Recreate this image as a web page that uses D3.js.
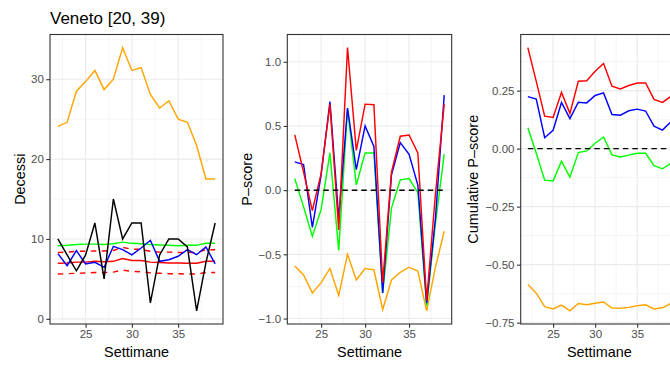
<!DOCTYPE html>
<html>
<head>
<meta charset="utf-8">
<script src="https://cdn.jsdelivr.net/npm/d3@7"></script>
<style>
  html, body { margin: 0; padding: 0; background: #fff; }
  svg { display: block; font-family: "Liberation Sans", Arial, Helvetica, sans-serif; }
</style>
</head>
<body>
<svg id="chart" width="670" height="365"></svg>
<script>
// Weeks shown on the x axis
const weeks = [22, 23, 24, 25, 26, 27, 28, 29, 30, 31, 32, 33, 34, 35, 36, 37, 38, 39];

// Weekly deaths, age group [20, 39), Veneto
const observed      = [10, 8, 6, 8, 12, 5, 15, 10, 12, 12, 2, 8, 10, 10, 9, 1, 7, 12];
const expectedRed   = [6.95, 7.0, 7.1, 7.1, 7.2, 7.15, 7.2, 7.55, 7.3, 7.3, 7.1, 7.05, 7.0, 7.0, 6.95, 6.95, 7.2, 7.2];
const upperRed      = [8.3, 8.35, 8.45, 8.45, 8.5, 8.5, 8.55, 8.95, 8.7, 8.7, 8.45, 8.35, 8.35, 8.3, 8.3, 8.3, 8.65, 8.65];
const lowerRed      = [5.6, 5.65, 5.7, 5.75, 5.8, 5.8, 5.85, 6.1, 5.95, 5.9, 5.75, 5.7, 5.65, 5.65, 5.6, 5.6, 5.8, 5.8];
const expectedGreen = [9.15, 9.2, 9.3, 9.35, 9.35, 9.3, 9.4, 9.6, 9.45, 9.4, 9.3, 9.25, 9.2, 9.15, 9.2, 9.2, 9.45, 9.45];
const expectedBlue  = [8.16, 6.66, 8.54, 6.87, 7.08, 6.45, 9.08, 8.66, 8.0, 8.87, 9.83, 7.2, 7.4, 7.83, 8.66, 8.03, 9.0, 6.87];
const expectedOrange = [24.1, 24.6, 28.5, 29.7, 31.1, 28.7, 30.0, 33.95, 31.1, 31.45, 28.1, 26.4, 27.3, 25.0, 24.6, 21.7, 17.5, 17.5];

// Weekly P-scores
const pRed    = [0.43, 0.14, -0.16, 0.13, 0.67, -0.31, 1.11, 0.31, 0.67, 0.665, -0.72, 0.14, 0.42, 0.43, 0.29, -0.86, -0.03, 0.67];
const pBlue   = [0.22, 0.20, -0.29, 0.12, 0.69, -0.22, 0.64, 0.16, 0.50, 0.34, -0.80, 0.12, 0.37, 0.28, 0.04, -0.88, -0.22, 0.74];
const pGreen  = [0.09, -0.13, -0.36, -0.15, 0.29, -0.47, 0.63, 0.04, 0.29, 0.29, -0.80, -0.14, 0.08, 0.09, -0.02, -0.90, -0.26, 0.28];
const pOrange = [-0.59, -0.66, -0.80, -0.72, -0.61, -0.82, -0.50, -0.70, -0.61, -0.62, -0.93, -0.70, -0.64, -0.60, -0.63, -0.94, -0.60, -0.32];

// Cumulative P-scores
const cRed    = [0.435, 0.29, 0.14, 0.134, 0.242, 0.152, 0.29, 0.292, 0.333, 0.367, 0.269, 0.257, 0.272, 0.283, 0.283, 0.212, 0.199, 0.225];
const cBlue   = [0.224, 0.213, 0.047, 0.079, 0.199, 0.129, 0.20, 0.197, 0.229, 0.24, 0.147, 0.144, 0.163, 0.17, 0.162, 0.097, 0.08, 0.115];
const cGreen  = [0.09, -0.02, -0.136, -0.139, -0.054, -0.123, -0.017, -0.01, 0.023, 0.05, -0.027, -0.036, -0.028, -0.02, -0.02, -0.073, -0.087, -0.063];
const cOrange = [-0.586, -0.623, -0.681, -0.691, -0.674, -0.699, -0.667, -0.673, -0.666, -0.661, -0.687, -0.688, -0.684, -0.677, -0.673, -0.691, -0.686, -0.667];

// Axis ticks
const xTicks = [25, 30, 35];
const xMinor = [22.5, 27.5, 32.5, 37.5];
const yTicks1 = [0, 10, 20, 30];
const yMinor1 = [5, 15, 25, 35];
const yTicks2 = [-1.0, -0.5, 0.0, 0.5, 1.0];
const yMinor2 = [-0.75, -0.25, 0.25, 0.75];
const yTicks3 = [-0.75, -0.50, -0.25, 0.00, 0.25];
const yMinor3 = [-0.625, -0.375, -0.125, 0.125, 0.375];

const title = "Veneto [20, 39)";
const xTitle = "Settimane";

const svg = d3.select("#chart");
const TOP = 34.5, BOTTOM = 324;

// ggplot-style 5% expansion of a continuous range
function expand(lo, hi) {
  const pad = (hi - lo) * 0.05;
  return [lo - pad, hi + pad];
}

function panel(opts) {
  const g = svg.append("g");
  const xDom = expand(d3.min(weeks), d3.max(weeks));
  const x = d3.scaleLinear().domain(xDom).range([opts.left, opts.right]);
  const allVals = opts.series.flatMap(s => s.values);
  const y = d3.scaleLinear().domain(expand(d3.min(allVals), d3.max(allVals))).range([BOTTOM, TOP]);

  // panel background grid
  const grid = g.append("g");
  grid.selectAll("line.xmin").data(xMinor).join("line")
    .attr("x1", d => x(d)).attr("x2", d => x(d)).attr("y1", TOP).attr("y2", BOTTOM)
    .attr("stroke", "#ebebeb").attr("stroke-width", 0.55);
  grid.selectAll("line.ymin").data(opts.yMinor.filter(v => y(v) > TOP && y(v) < BOTTOM)).join("line")
    .attr("class", "ymin")
    .attr("x1", opts.left).attr("x2", opts.right).attr("y1", d => y(d)).attr("y2", d => y(d))
    .attr("stroke", "#ebebeb").attr("stroke-width", 0.55);
  grid.selectAll("line.xmaj").data(xTicks).join("line")
    .attr("class", "xmaj")
    .attr("x1", d => x(d)).attr("x2", d => x(d)).attr("y1", TOP).attr("y2", BOTTOM)
    .attr("stroke", "#ebebeb").attr("stroke-width", 1.1);
  grid.selectAll("line.ymaj").data(opts.yTicks).join("line")
    .attr("class", "ymaj")
    .attr("x1", opts.left).attr("x2", opts.right).attr("y1", d => y(d)).attr("y2", d => y(d))
    .attr("stroke", "#ebebeb").attr("stroke-width", 1.1);

  // series lines
  const line = d3.line().x((d, i) => x(weeks[i])).y(d => y(d));
  opts.series.forEach(s => {
    g.append("path").datum(s.values)
      .attr("d", line)
      .attr("fill", "none")
      .attr("stroke", s.color)
      .attr("stroke-width", 1.45)
      .attr("stroke-dasharray", s.dash || null);
  });

  if (opts.zeroLine) {
    g.append("line")
      .attr("x1", x(d3.min(weeks))).attr("x2", x(d3.max(weeks)))
      .attr("y1", y(0)).attr("y2", y(0))
      .attr("stroke", "#000").attr("stroke-width", 1.45)
      .attr("stroke-dasharray", "5.5,4");
  }

  // panel border
  g.append("rect")
    .attr("x", opts.left).attr("y", TOP)
    .attr("width", opts.right - opts.left).attr("height", BOTTOM - TOP)
    .attr("fill", "none").attr("stroke", "#333").attr("stroke-width", 1.1);

  // axes
  const xAxis = d3.axisBottom(x).tickValues(xTicks).tickSize(3.7).tickPadding(2.5).tickFormat(d3.format("d"));
  const ga = g.append("g").attr("transform", `translate(0,${BOTTOM})`).call(xAxis);
  const yAxis = d3.axisLeft(y).tickValues(opts.yTicks).tickSize(3.7).tickPadding(2.5).tickFormat(d3.format(opts.fmt));
  const gy = g.append("g").attr("transform", `translate(${opts.left},0)`).call(yAxis);
  [ga, gy].forEach(a => {
    a.select(".domain").remove();
    a.selectAll(".tick line").attr("stroke", "#333").attr("stroke-width", 1.1);
    a.selectAll(".tick text").attr("fill", "#4d4d4d").style("font-size", "11.5px")
      .style("font-family", '"Liberation Sans", Arial, sans-serif');
  });

  // axis titles
  g.append("text")
    .attr("x", (opts.left + opts.right) / 2).attr("y", 357)
    .attr("text-anchor", "middle").style("font-size", "14.4px").attr("fill", "#000")
    .text(xTitle);
  g.append("text")
    .attr("transform", `translate(${opts.yTitleX},${(TOP + BOTTOM) / 2}) rotate(-90)`)
    .attr("text-anchor", "middle").style("font-size", "14.4px").attr("fill", "#000")
    .text(opts.yTitle);
}

panel({
  left: 50, right: 223, yTitleX: 25, yTitle: "Decessi",
  yTicks: yTicks1, yMinor: yMinor1, fmt: "d",
  series: [
    { values: lowerRed, color: "red", dash: "5.5,5.5" },
    { values: upperRed, color: "red", dash: "5.5,5.5" },
    { values: expectedRed, color: "red" },
    { values: expectedGreen, color: "#00ff00" },
    { values: expectedBlue, color: "blue" },
    { values: expectedOrange, color: "orange" },
    { values: observed, color: "black" }
  ]
});

panel({
  left: 287.3, right: 451.7, yTitleX: 252, yTitle: "P\u2013score",
  yTicks: yTicks2, yMinor: yMinor2, fmt: ".1f", zeroLine: true,
  series: [
    { values: pOrange, color: "orange" },
    { values: pGreen, color: "#00ff00" },
    { values: pBlue, color: "blue" },
    { values: pRed, color: "red" }
  ]
});

panel({
  left: 520.7, right: 678, yTitleX: 478, yTitle: "Cumulative P\u2013score",
  yTicks: yTicks3, yMinor: yMinor3, fmt: ".2f", zeroLine: true,
  series: [
    { values: cOrange, color: "orange" },
    { values: cGreen, color: "#00ff00" },
    { values: cBlue, color: "blue" },
    { values: cRed, color: "red" }
  ]
});

// plot title
svg.append("text")
  .attr("x", 50).attr("y", 23.5)
  .style("font-size", "17px").attr("fill", "#000")
  .text(title);
</script>
</body>
</html>
